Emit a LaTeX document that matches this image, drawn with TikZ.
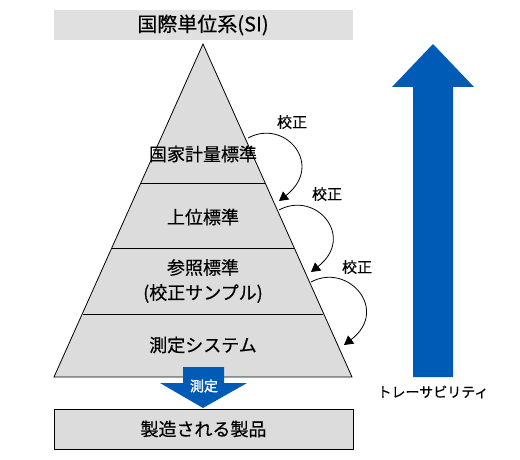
\documentclass[tikz,border=0pt]{standalone}
\usepackage{fontspec}
\setmainfont{Noto Sans CJK JP}
\usetikzlibrary{arrows.meta}
\definecolor{layergray}{HTML}{DCDCDC}
\definecolor{titlegray}{HTML}{E0E0E0}
\definecolor{tracblue}{HTML}{005BB7}

\begin{document}
\begin{tikzpicture}[x=1pt, y=-1pt,
    layertext/.style={font=\fontsize{18}{25}\selectfont\addfontfeatures{FakeBold=0.4}, align=center},
    caltext/.style={font=\fontsize{15}{18}\selectfont\addfontfeatures{FakeBold=0.4}},
    calarrow/.style={-{Triangle[width=10pt,length=9pt]}, line width=0.8pt},
    bluearrow/.style={fill=tracblue, draw=none}]
    \useasboundingbox (0,0) rectangle (520,460);

    % Title box
    \fill[titlegray] (54,10) rectangle (353,40);
    \node (si) [font=\fontsize{20}{22}\selectfont\addfontfeatures{FakeBold=0.4}] at (203,25) {国際単位系(SI)};

    % Pyramid
    \coordinate (apex) at (203,44);
    \coordinate (bl) at (54,377);
    \coordinate (br) at (352,377);
    \fill[layergray] (apex) -- (bl) -- (br) -- cycle;
    \coordinate (l1a) at (141,183); \coordinate (l1b) at (265,183);
    \coordinate (l2a) at (112,248); \coordinate (l2b) at (294,248);
    \coordinate (l3a) at (83,314);  \coordinate (l3b) at (323,314);
    \draw[line width=0.8pt] (l1a) -- (l1b);
    \draw[line width=0.8pt] (l2a) -- (l2b);
    \draw[line width=0.8pt] (l3a) -- (l3b);
    \draw[line width=0.8pt] (apex) -- (bl) -- (br) -- cycle;

    % Layers
    \node (national) [layertext] at (203,154) {国家計量標準};
    \node (upper) [layertext] at (203,217) {上位標準};
    \node (reference) [layertext] at (203,281) {参照標準\\(校正サンプル)};
    \node (system) [layertext] at (203,345) {測定システム};

    % Calibration arrows
    \coordinate (c1s) at (248,138); \coordinate (c1e) at (279,201);
    \coordinate (c2s) at (279,210); \coordinate (c2e) at (311,272);
    \coordinate (c3s) at (311,282); \coordinate (c3e) at (344,345);
    \draw[calarrow] (c1s) .. controls (285,118) and (325,165) .. (c1e);
    \draw[calarrow] (c2s) .. controls (316,190) and (356,237) .. (c2e);
    \draw[calarrow] (c3s) .. controls (348,262) and (390,310) .. (c3e);
    \node (cal1) [caltext] at (292,122) {校正};
    \node (cal2) [caltext] at (327,194) {校正};
    \node (cal3) [caltext] at (357,267) {校正};

    % Measurement arrow
    \fill[bluearrow] (183,367) -- (224,367) -- (224,383) -- (247,383)
        -- (203,408) -- (160,383) -- (183,383) -- cycle;
    \node (measure) [font=\fontsize{14}{16}\selectfont\addfontfeatures{FakeBold=1.5}, text=white] at (204,386) {測定};

    % Product box
    \node (product) [draw, fill=layergray, line width=0.8pt, minimum width=299pt,
        minimum height=40pt, inner sep=0pt, font=\fontsize{18}{22}\selectfont\addfontfeatures{FakeBold=0.4}]
        at (203.5,429) {製造される製品};

    % Traceability arrow
    \fill[bluearrow] (413,377) -- (413,87) -- (392,87) -- (433,44)
        -- (474,87) -- (453,87) -- (453,377) -- cycle;
    \node (trace) [font=\fontsize{14}{16}\selectfont\addfontfeatures{FakeBold=0.4}] at (433,392) {トレーサビリティ};
\end{tikzpicture}
\end{document}
